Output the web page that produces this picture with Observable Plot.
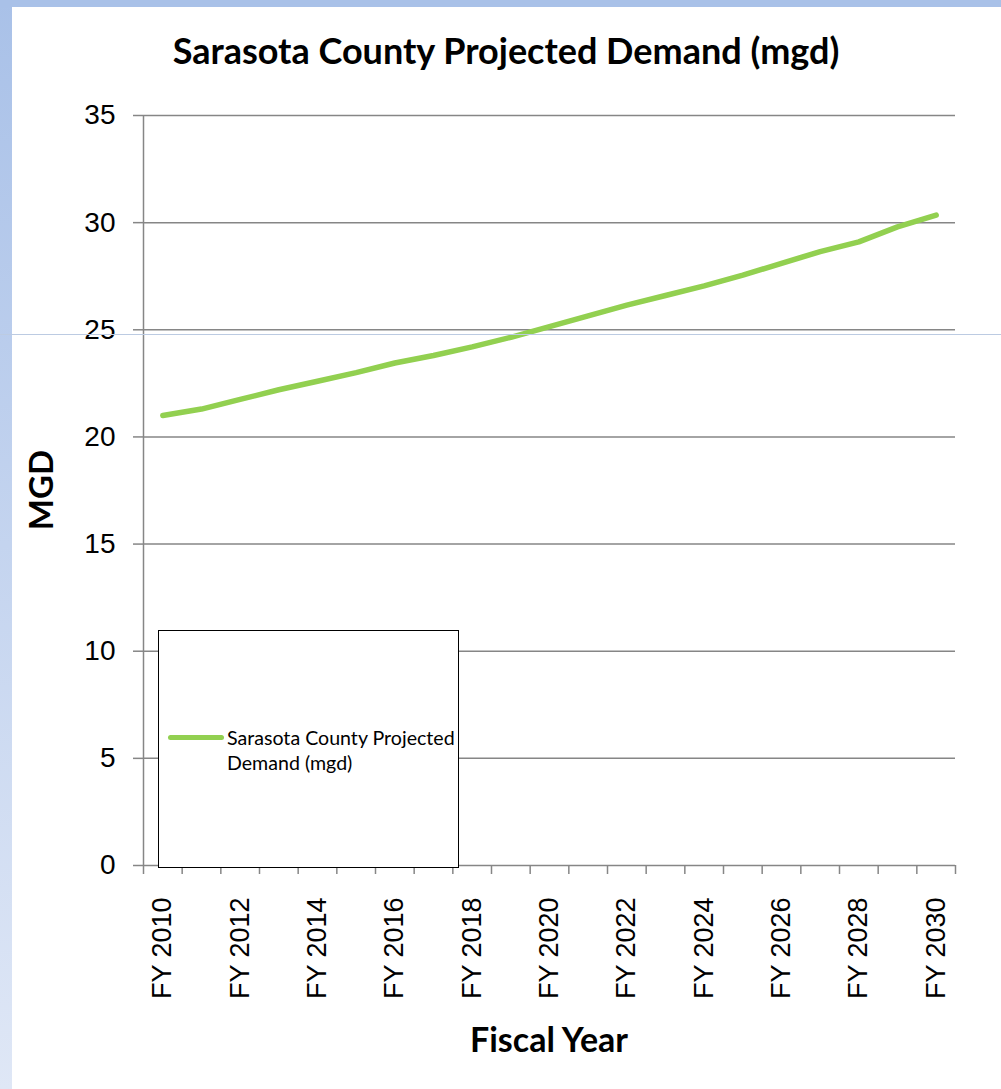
<!DOCTYPE html>
<html>
<head>
<meta charset="utf-8">
<script src="https://cdn.jsdelivr.net/npm/d3@7"></script>
<script src="https://cdn.jsdelivr.net/npm/@observablehq/plot@0.6"></script>
<style>
  html, body { margin: 0; padding: 0; background: #fff; }
  #wrap { position: relative; width: 1001px; height: 1089px; overflow: hidden; background: #fff; }
  #leftbar { position: absolute; left: 0; top: 0; width: 12px; height: 1089px;
    background: linear-gradient(to bottom, #a9c1e8, #dfe7f6); }
  #topbar { position: absolute; left: 0; top: 0; width: 1001px; height: 7px; background: #a9c1e8; }
  #artifact { position: absolute; left: 0; top: 334px; width: 1001px; height: 1px; background: #bccbe2; }
  #chart { position: absolute; left: 0; top: 0; }
  .title { position: absolute; font-family: Lato, "Open Sans", sans-serif; font-weight: bold; color: #000; white-space: nowrap; }
  #legend { position: absolute; left: 158px; top: 630px; width: 301px; height: 238px; box-sizing: border-box;
    border: 1.5px solid #000; background: #fff; }
  #legend .swatch { position: absolute; left: 9px; top: 104px; width: 56px; height: 5px; background: #92d050; border-radius: 3px; }
  #legend .label { position: absolute; left: 68px; top: 94px; font-family: Lato, "Open Sans", sans-serif; font-size: 19.6px; line-height: 25px; color: #000; white-space: nowrap; }
</style>
</head>
<body>
<div id="wrap">
  <div id="leftbar"></div>
  <div id="topbar"></div>
</div>
<script>
const years = [2010, 2011, 2012, 2013, 2014, 2015, 2016, 2017, 2018, 2019, 2020,
               2021, 2022, 2023, 2024, 2025, 2026, 2027, 2028, 2029, 2030];
const demand = [21.0, 21.3, 21.75, 22.2, 22.6, 23.0, 23.45, 23.8, 24.2, 24.65, 25.15,
                25.65, 26.15, 26.6, 27.05, 27.55, 28.1, 28.65, 29.1, 29.8, 30.35];
const yTicks = [0, 5, 10, 15, 20, 25, 30, 35];
const labelYears = [2010, 2012, 2014, 2016, 2018, 2020, 2022, 2024, 2026, 2028, 2030];
const seriesName = "Sarasota County Projected Demand (mgd)";
const chartTitle = "Sarasota County Projected Demand (mgd)";
const xTitle = "Fiscal Year";
const yTitle = "MGD";

const data = years.map((year, i) => ({year, value: demand[i]}));
const boundaries = [years[0] - 0.5, ...years.map(y => y + 0.5)];

const tickFont = "Liberation Sans, Arial, sans-serif";
const grey = "#868686";

const chart = Plot.plot({
  width: 1001,
  height: 1089,
  marginLeft: 143,
  marginRight: 46,
  marginTop: 115,
  marginBottom: 224,
  style: {background: "transparent", overflow: "visible"},
  x: {type: "linear", domain: [boundaries[0], boundaries[boundaries.length - 1]], axis: null, label: null},
  y: {domain: [0, 35], axis: null, label: null},
  marks: [
    Plot.gridY(yTicks, {stroke: grey, strokeOpacity: 1, strokeWidth: 1.5}),
    Plot.axisY(yTicks, {tickSize: 10, tickPadding: 18, stroke: grey, strokeWidth: 1.5, label: null,
      fill: "#000", fontSize: 28, fontFamily: tickFont, tickFormat: d => String(d)}),
    Plot.axisX(boundaries, {tickSize: 9, stroke: grey, strokeWidth: 1.5, label: null, tickFormat: () => ""}),
    Plot.ruleX([boundaries[0]], {y1: 0, y2: 35, stroke: grey, strokeWidth: 1.5}),
    Plot.line(data, {x: "year", y: "value", stroke: "#92d050", strokeWidth: 5.5,
      strokeLinecap: "round", strokeLinejoin: "round"}),
    Plot.text(labelYears, {x: d => d, frameAnchor: "bottom", text: d => `FY ${d}`,
      rotate: -90, textAnchor: "end", lineAnchor: "middle", dy: 32,
      fontSize: 27, fontFamily: tickFont, fill: "#000"})
  ]
});
chart.id = "chart";
const wrap = document.getElementById("wrap");
wrap.appendChild(chart);

const art = document.createElement("div");
art.id = "artifact";
wrap.appendChild(art);

function addText(text, css) {
  const d = document.createElement("div");
  d.className = "title";
  d.textContent = text;
  Object.assign(d.style, css);
  wrap.appendChild(d);
  return d;
}
addText(chartTitle, {left: "506px", top: "30px", fontSize: "36px", lineHeight: "40px", transform: "translateX(-50%)"});
addText(xTitle, {left: "549px", top: "1019px", fontSize: "34px", lineHeight: "40px", transform: "translateX(-50%)"});
addText(yTitle, {left: "40px", top: "490px", fontSize: "33px", lineHeight: "40px", transform: "translate(-50%, -50%) rotate(-90deg)"});

const legend = document.createElement("div");
legend.id = "legend";
legend.innerHTML = `<div class="swatch"></div><div class="label"></div>`;
legend.querySelector(".label").innerHTML = seriesName.replace("Projected ", "Projected<br>");
wrap.appendChild(legend);
</script>
</body>
</html>
